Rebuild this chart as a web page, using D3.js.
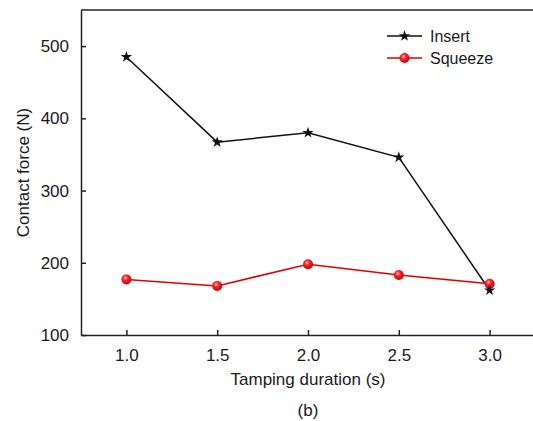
<!DOCTYPE html>
<html>
<head>
<meta charset="utf-8">
<script src="https://cdn.jsdelivr.net/npm/d3@7"></script>
<style>
  body { margin: 0; background: #fff; }
  text { font-family: "Liberation Sans", Arial, sans-serif; fill: #1a1a1a; }
</style>
</head>
<body>
<svg id="chart" width="533" height="421"></svg>
<script>
// data
var durations = [1.0, 1.5, 2.0, 2.5, 3.0]
var insert_force = [485, 367, 380, 346, 162]
var squeeze_force = [177, 168, 198, 183, 171]
var x_ticks = [1.0, 1.5, 2.0, 2.5, 3.0]
var y_ticks = [100, 200, 300, 400, 500]

var svg = d3.select("#chart")
var m_left = 81, m_top = 10, m_right = 535, m_bottom = 335

var x = d3.scaleLinear().domain([0.75, 3.25]).range([m_left, m_right])
var y = d3.scaleLinear().domain([100, 550]).range([m_bottom, m_top])

// red ball gradient
var grad = svg.append("defs").append("radialGradient")
  .attr("id", "ball").attr("cx", "40%").attr("cy", "35%").attr("r", "65%")
grad.append("stop").attr("offset", "0%").attr("stop-color", "#ffd0d0")
grad.append("stop").attr("offset", "35%").attr("stop-color", "#ff2a2a")
grad.append("stop").attr("offset", "100%").attr("stop-color", "#c00000")

function style_axis(g){
  g.select(".domain").attr("stroke", "#222").attr("stroke-width", 1.5)
  g.selectAll(".tick line").attr("stroke", "#222").attr("stroke-width", 1.5)
  g.selectAll("text").attr("font-size", 17).style("fill", "#1a1a1a")
}

// axes, ticks pointing inward
svg.append("g")
  .attr("transform", "translate(0," + m_bottom + ")")
  .call(d3.axisBottom(x).tickValues(x_ticks).tickSizeInner(-5).tickSizeOuter(0).tickPadding(14).tickFormat(d3.format(".1f")))
  .call(style_axis)

svg.append("g")
  .attr("transform", "translate(" + m_left + ",0)")
  .call(d3.axisLeft(y).tickValues(y_ticks).tickSizeInner(-5).tickSizeOuter(0).tickPadding(12))
  .call(style_axis)

// top frame line
svg.append("line")
  .attr("x1", m_left).attr("x2", m_right).attr("y1", m_top).attr("y2", m_top)
  .attr("stroke", "#222").attr("stroke-width", 1.5)

// titles
svg.append("text")
  .attr("x", 308).attr("y", 385)
  .attr("text-anchor", "middle").attr("font-size", 17)
  .text("Tamping duration (s)")

svg.append("text")
  .attr("transform", "translate(29," + ((m_top + m_bottom) / 2) + ") rotate(-90)")
  .attr("text-anchor", "middle").attr("font-size", 17)
  .text("Contact force (N)")

svg.append("text")
  .attr("x", 308).attr("y", 416)
  .attr("text-anchor", "middle").attr("font-size", 17)
  .text("(b)")

var line = d3.line().x(function(d){ return x(d[0]) }).y(function(d){ return y(d[1]) })
var star = d3.symbol().type(d3.symbolStar).size(40)

var insert_pts = d3.zip(durations, insert_force)
var squeeze_pts = d3.zip(durations, squeeze_force)

svg.append("path").datum(insert_pts)
  .attr("fill", "none").attr("stroke", "#111").attr("stroke-width", 1.5)
  .attr("d", line)

svg.append("path").datum(squeeze_pts)
  .attr("fill", "none").attr("stroke", "#e00000").attr("stroke-width", 1.5)
  .attr("d", line)

svg.append("g").selectAll("circle").data(squeeze_pts).enter().append("circle")
  .attr("cx", function(d){ return x(d[0]) })
  .attr("cy", function(d){ return y(d[1]) })
  .attr("r", 5)
  .attr("fill", "url(#ball)")

svg.append("g").selectAll("path").data(insert_pts).enter().append("path")
  .attr("transform", function(d){ return "translate(" + x(d[0]) + "," + y(d[1]) + ")" })
  .attr("d", star)
  .attr("fill", "#111")

// legend
var legend = [
  {name: "Insert", color: "#111", marker: "star"},
  {name: "Squeeze", color: "#e00000", marker: "ball"}
]
legend.forEach(function(l, i){
  var ly = 36 + i * 22
  svg.append("line")
    .attr("x1", 387).attr("x2", 422).attr("y1", ly).attr("y2", ly)
    .attr("stroke", l.color).attr("stroke-width", 1.5)
  if (l.marker == "star") {
    svg.append("path").attr("transform", "translate(404.5," + ly + ")")
      .attr("d", star).attr("fill", "#111")
  } else {
    svg.append("circle").attr("cx", 404.5).attr("cy", ly).attr("r", 5)
      .attr("fill", "url(#ball)")
  }
  svg.append("text")
    .attr("x", 430).attr("y", ly + 6)
    .attr("font-size", 16)
    .text(l.name)
})
</script>
</body>
</html>
